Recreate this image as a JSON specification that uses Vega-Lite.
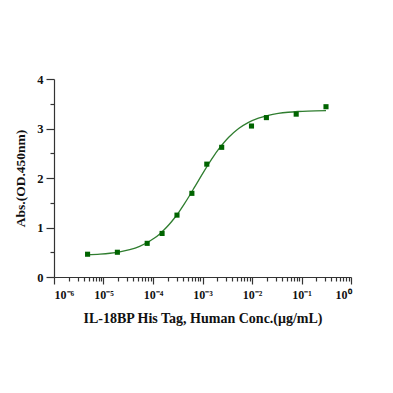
{
  "$schema": "https://vega.github.io/schema/vega-lite/v6.json",
  "width": 297,
  "height": 198,
  "autosize": {"type": "none"},
  "padding": {"left": 54, "top": 79, "right": 42, "bottom": 116},
  "background": "white",
  "config": {
    "view": {"stroke": null},
    "axis": {
      "labelFont": "Liberation Serif",
      "titleFont": "Liberation Serif",
      "labelFontWeight": "bold",
      "titleFontWeight": "bold",
      "labelColor": "#111",
      "titleColor": "#111",
      "domainColor": "#333",
      "tickColor": "#333",
      "domainWidth": 1.2,
      "tickWidth": 1.2,
      "grid": false
    }
  },
  "datasets": {
    "curve": [
      {"conc": 4.677e-6, "abs": 0.448},
      {"conc": 8.511e-6, "abs": 0.462},
      {"conc": 1.349e-5, "abs": 0.480},
      {"conc": 2.138e-5, "abs": 0.509},
      {"conc": 3.388e-5, "abs": 0.553},
      {"conc": 5.370e-5, "abs": 0.620},
      {"conc": 8.511e-5, "abs": 0.721},
      {"conc": 1.0715e-4, "abs": 0.787},
      {"conc": 1.349e-4, "abs": 0.866},
      {"conc": 1.698e-4, "abs": 0.958},
      {"conc": 2.138e-4, "abs": 1.065},
      {"conc": 2.692e-4, "abs": 1.187},
      {"conc": 3.388e-4, "abs": 1.323},
      {"conc": 4.266e-4, "abs": 1.473},
      {"conc": 5.370e-4, "abs": 1.632},
      {"conc": 6.761e-4, "abs": 1.799},
      {"conc": 8.511e-4, "abs": 1.968},
      {"conc": 1.0715e-3, "abs": 2.135},
      {"conc": 1.349e-3, "abs": 2.296},
      {"conc": 1.698e-3, "abs": 2.448},
      {"conc": 2.138e-3, "abs": 2.587},
      {"conc": 2.692e-3, "abs": 2.712},
      {"conc": 3.388e-3, "abs": 2.822},
      {"conc": 5.370e-3, "abs": 2.999},
      {"conc": 8.511e-3, "abs": 3.124},
      {"conc": 0.01349, "abs": 3.210},
      {"conc": 0.02138, "abs": 3.267},
      {"conc": 0.03388, "abs": 3.304},
      {"conc": 0.05370, "abs": 3.328},
      {"conc": 0.08511, "abs": 3.343},
      {"conc": 0.1349, "abs": 3.353},
      {"conc": 0.3126, "abs": 3.363}
    ],
    "points": [
      {"conc": 4.768e-6, "abs": 0.46},
      {"conc": 1.9073e-5, "abs": 0.50},
      {"conc": 7.6294e-5, "abs": 0.68},
      {"conc": 1.52588e-4, "abs": 0.88},
      {"conc": 3.05176e-4, "abs": 1.25},
      {"conc": 6.10352e-4, "abs": 1.69},
      {"conc": 1.220703e-3, "abs": 2.28},
      {"conc": 2.441406e-3, "abs": 2.62},
      {"conc": 9.765625e-3, "abs": 3.05},
      {"conc": 0.01953125, "abs": 3.22},
      {"conc": 0.078125, "abs": 3.29},
      {"conc": 0.3125, "abs": 3.44}
    ]
  },
  "layer": [
    {
      "data": {"name": "curve"},
      "mark": {"type": "line", "color": "#2f7d2f", "strokeWidth": 1.3, "interpolate": "monotone"},
      "encoding": {
        "x": {
          "field": "conc", "type": "quantitative",
          "scale": {"type": "log", "domain": [1e-6, 1], "nice": false},
          "axis": {
            "orient": "bottom",
            "values": [1e-6, 1e-5, 1e-4, 1e-3, 1e-2, 1e-1, 1],
            "labelExpr": "'10' + ['⁻⁶','⁻⁵','⁻⁴','⁻³','⁻²','⁻¹','⁰'][round(log(datum.value)/LN10)+6]",
            "tickSize": 7,
            "labelPadding": 5,
            "labelFontSize": 12,
            "title": "IL-18BP His Tag, Human Conc.(μg/mL)",
            "titleFontSize": 14,
            "titlePadding": 11
          }
        },
        "y": {
          "field": "abs", "type": "quantitative",
          "scale": {"domain": [0, 4], "nice": false},
          "axis": {
            "orient": "left",
            "values": [0, 1, 2, 3, 4],
            "tickSize": 8,
            "labelPadding": 3,
            "labelFontSize": 12.5,
            "title": "Abs.(OD.450nm)",
            "titleFontSize": 13.5,
            "titlePadding": 9
          }
        }
      }
    },
    {
      "data": {"name": "points"},
      "mark": {"type": "square", "color": "#006400", "opacity": 1, "size": 26},
      "encoding": {
        "x": {
          "field": "conc", "type": "quantitative",
          "axis": {
            "orient": "bottom",
            "values": [2e-6,3e-6,4e-6,5e-6,6e-6,7e-6,8e-6,9e-6,2e-5,3e-5,4e-5,5e-5,6e-5,7e-5,8e-5,9e-5,2e-4,3e-4,4e-4,5e-4,6e-4,7e-4,8e-4,9e-4,2e-3,3e-3,4e-3,5e-3,6e-3,7e-3,8e-3,9e-3,0.02,0.03,0.04,0.05,0.06,0.07,0.08,0.09,0.2,0.3,0.4,0.5,0.6,0.7,0.8,0.9],
            "labels": false,
            "domain": false,
            "tickSize": 4,
            "title": null
          }
        },
        "y": {
          "field": "abs", "type": "quantitative",
          "axis": {
            "orient": "left",
            "values": [0.5, 1.5, 2.5, 3.5],
            "labels": false,
            "domain": false,
            "tickSize": 4,
            "title": null
          }
        }
      }
    }
  ],
  "resolve": {"axis": {"x": "independent", "y": "independent"}}
}
